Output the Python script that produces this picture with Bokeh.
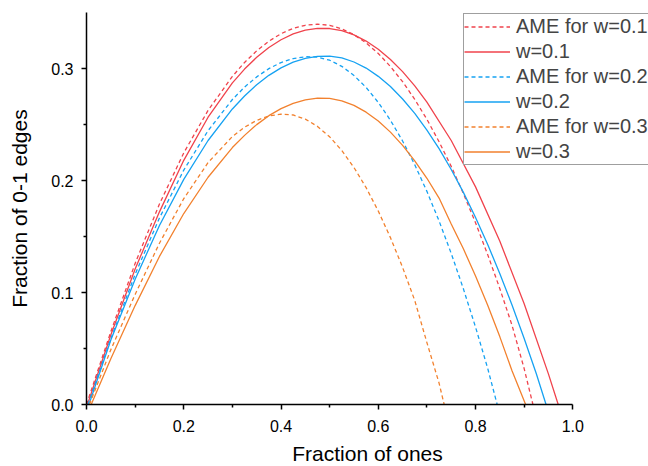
from bokeh.plotting import figure
from bokeh.models import Range1d, Legend, LegendItem, PrintfTickFormatter, FixedTicker
from bokeh.embed import file_html
from bokeh.resources import INLINE

# ---- data ----
ame1_x = [0.0, 0.05, 0.1, 0.15, 0.2, 0.25, 0.3, 0.325, 0.35, 0.375, 0.4, 0.425, 0.45, 0.475, 0.5, 0.525, 0.55, 0.575,
          0.6, 0.625, 0.65, 0.675, 0.7, 0.725, 0.75, 0.775, 0.8, 0.825, 0.85, 0.875, 0.9, 0.918]
ame1_y = [0.0, 0.065, 0.126, 0.179, 0.2247, 0.2626, 0.293, 0.3054, 0.3158, 0.3244, 0.3311, 0.3358, 0.3386, 0.3396, 0.3386,
          0.3354, 0.3302, 0.3228, 0.3134, 0.3018, 0.2882, 0.2724, 0.2546, 0.2346, 0.2126, 0.1884, 0.1622, 0.1338, 0.1034,
          0.0708, 0.032, 0.0]

w1_x = [0.002, 0.05, 0.1, 0.15, 0.2, 0.25, 0.3, 0.325, 0.35, 0.375, 0.4, 0.425, 0.45, 0.475, 0.5, 0.525, 0.55, 0.575,
        0.6, 0.625, 0.65, 0.675, 0.7, 0.75, 0.8, 0.85, 0.9, 0.95, 0.97]
w1_y = [0.0, 0.062, 0.121, 0.172, 0.218, 0.2565, 0.2872, 0.2995, 0.31, 0.3188, 0.3257, 0.3309, 0.3343, 0.3359, 0.3357,
        0.3338, 0.33, 0.3245, 0.3172, 0.3081, 0.2972, 0.2845, 0.27, 0.2357, 0.1943, 0.1457, 0.09, 0.0271, 0.0]

ame2_x = [0.003, 0.05, 0.1, 0.15, 0.2, 0.25, 0.3, 0.325, 0.35, 0.375, 0.4, 0.425, 0.45, 0.475, 0.5, 0.525, 0.55, 0.575,
          0.6, 0.625, 0.65, 0.675, 0.7, 0.725, 0.75, 0.775, 0.8, 0.825, 0.8445]
ame2_y = [0.0, 0.0586, 0.1163, 0.1665, 0.2093, 0.2445, 0.2723, 0.2834, 0.2925, 0.2999, 0.3053, 0.3089, 0.3105, 0.3102,
          0.3074, 0.3019, 0.2938, 0.2831, 0.2697, 0.2538, 0.2353, 0.2141, 0.1903, 0.1639, 0.1349, 0.1033, 0.0691, 0.0323, 0.0]

w2_x = [0.005, 0.05, 0.1, 0.15, 0.2, 0.25, 0.3, 0.325, 0.35, 0.375, 0.4, 0.425, 0.45, 0.475, 0.5, 0.525, 0.55, 0.575,
        0.6, 0.625, 0.65, 0.675, 0.7, 0.725, 0.75, 0.775, 0.8, 0.825, 0.85, 0.875, 0.9, 0.925, 0.945]
w2_y = [0.0, 0.0576, 0.1119, 0.1598, 0.201, 0.2357, 0.2639, 0.2755, 0.2855, 0.2939, 0.3006, 0.3057, 0.3091, 0.3109, 0.311,
        0.3094, 0.3058, 0.3004, 0.293, 0.2839, 0.2728, 0.2599, 0.245, 0.2284, 0.2098, 0.1894, 0.167, 0.1429, 0.1168,
        0.0889, 0.059, 0.0274, 0.0]

ame3_x = [0.006, 0.05, 0.1, 0.15, 0.2, 0.25, 0.3, 0.325, 0.35, 0.375, 0.4, 0.425, 0.45, 0.475, 0.5, 0.525, 0.55, 0.575,
          0.6, 0.625, 0.65, 0.675, 0.7, 0.725, 0.7355]
ame3_y = [0.0, 0.0489, 0.0983, 0.144, 0.1838, 0.216, 0.2393, 0.2476, 0.2537, 0.2576, 0.2592, 0.2585, 0.2548, 0.2483,
          0.239, 0.2267, 0.2116, 0.1936, 0.1727, 0.149, 0.1224, 0.0929, 0.0553, 0.0191, 0.0]

w3_x = [0.0097, 0.05, 0.1, 0.15, 0.2, 0.25, 0.3, 0.325, 0.35, 0.375, 0.4, 0.425, 0.45, 0.475, 0.5, 0.525, 0.55, 0.575,
        0.6, 0.625, 0.65, 0.675, 0.7, 0.725, 0.75, 0.775, 0.8, 0.825, 0.85, 0.875, 0.903]
w3_y = [0.0, 0.0409, 0.0883, 0.1322, 0.1705, 0.2029, 0.2294, 0.2403, 0.2499, 0.2579, 0.2642, 0.2689, 0.272, 0.2735,
        0.2733, 0.2711, 0.2671, 0.261, 0.2531, 0.2432, 0.2314, 0.2176, 0.202, 0.1843, 0.1612, 0.139, 0.1148, 0.0886,
        0.0604, 0.0302, 0.0]

x_ticks = [0.0, 0.2, 0.4, 0.6, 0.8, 1.0]
y_ticks = [0.0, 0.1, 0.2, 0.3]
x_minor = [0.1, 0.3, 0.5, 0.7, 0.9]
y_minor = [0.05, 0.15, 0.25]

RED = "#F0434C"
BLUE = "#16A2F2"
ORANGE = "#F2812E"
FONT = "Liberation Sans"

# frame extends to the page edge so the legend can overflow past x = 1.0;
# the x axis itself is bounded to 0..1
p = figure(width=648, height=466, output_backend="svg", toolbar_location=None,
           x_range=Range1d(0, 562 / 486.3), y_range=Range1d(0, 0.35),
           min_border_left=86, min_border_right=0, min_border_top=12, min_border_bottom=62,
           frame_width=562, frame_height=392)
p.outline_line_color = None
p.xgrid.visible = False
p.ygrid.visible = False
p.background_fill_color = "white"
p.border_fill_color = "white"

series = [
    (ame1_x, ame1_y, RED, "4 3", "AME for w=0.1"),
    (w1_x, w1_y, RED, "solid", "w=0.1"),
    (ame2_x, ame2_y, BLUE, "4 3", "AME for w=0.2"),
    (w2_x, w2_y, BLUE, "solid", "w=0.2"),
    (ame3_x, ame3_y, ORANGE, "4 3", "AME for w=0.3"),
    (w3_x, w3_y, ORANGE, "solid", "w=0.3"),
]
items = []
for xs, ys, col, dash, lab in series:
    r = p.line(xs, ys, line_color=col, line_width=1.3, line_dash=dash)
    items.append(LegendItem(label=lab, renderers=[r]))

legend = Legend(items=items, location=(377, 239), padding=0, spacing=0, margin=0,
                glyph_width=46, glyph_height=25, label_height=25, label_standoff=6,
                label_text_font=FONT, label_text_font_size="20px",
                border_line_color="#404040", border_line_width=1,
                background_fill_color="white", background_fill_alpha=1.0)
p.add_layout(legend, "center")

for ax, ticks, minor in ((p.xaxis, x_ticks, x_minor), (p.yaxis, y_ticks, y_minor)):
    ax.ticker = FixedTicker(ticks=ticks, minor_ticks=minor)
    ax.formatter = PrintfTickFormatter(format="%.1f")
    ax.axis_line_color = "black"
    ax.axis_line_width = 1.5
    ax.major_tick_line_color = "black"
    ax.major_tick_line_width = 1.5
    ax.minor_tick_line_color = "black"
    ax.minor_tick_line_width = 1.5
    ax.major_tick_in = 0
    ax.major_tick_out = 5
    ax.minor_tick_in = 0
    ax.minor_tick_out = 3
    ax.major_label_text_font = FONT
    ax.major_label_text_font_size = "16px"
    ax.major_label_text_color = "black"
    ax.axis_label_text_font = FONT
    ax.axis_label_text_font_size = "21px"
    ax.axis_label_text_font_style = "normal"
    ax.axis_label_text_color = "black"

p.xaxis.bounds = (0, 1.0)
p.xaxis.axis_label = "Fraction of ones"
p.yaxis.axis_label = "Fraction of 0-1 edges"
p.xaxis.major_label_standoff = 10
p.yaxis.major_label_standoff = 8
p.xaxis.axis_label_standoff = 7
p.yaxis.axis_label_standoff = 17

open("out.html", "w").write(file_html(p, INLINE))
